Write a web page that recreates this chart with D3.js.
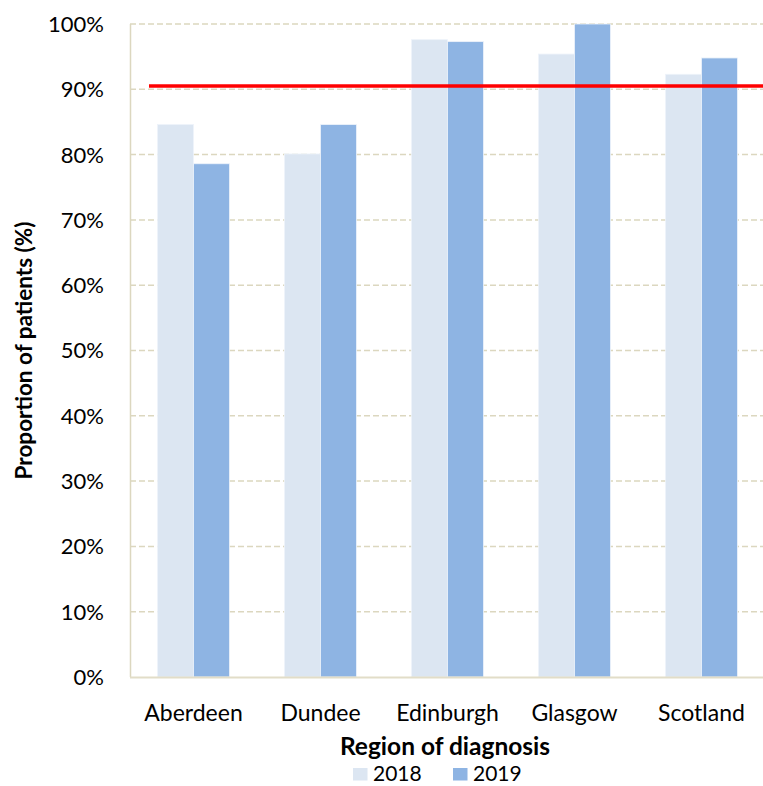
<!DOCTYPE html>
<html>
<head>
<meta charset="utf-8">
<script src="https://cdn.jsdelivr.net/npm/d3@7"></script>
<style>
  html, body { margin: 0; padding: 0; background: #fff; }
  svg { display: block; font-family: Lato, "Open Sans", sans-serif; }
</style>
</head>
<body>
<svg id="chart" width="763" height="786"></svg>
<script>
// Share of patients by region of diagnosis, 2018 vs 2019
const regions = ["Aberdeen", "Dundee", "Edinburgh", "Glasgow", "Scotland"];
const years = ["2018", "2019"];
const values2018 = [84.6, 80.1, 97.6, 95.4, 92.3];
const values2019 = [78.6, 84.6, 97.3, 100.0, 94.8];
const targetValue = 90.5;
const yTicks = [0, 10, 20, 30, 40, 50, 60, 70, 80, 90, 100];
const yearColors = ["#dce6f2", "#8eb4e3"];

const svg = d3.select("#chart");
const margin = { left: 130, top: 24, right: -2, bottom: 109 };
const W = 763, H = 786;
const x0 = margin.left, x1 = W - margin.right;
const yTop = margin.top, yBottom = H - margin.bottom;

const x = d3.scaleBand().domain(regions).range([x0, x1]).paddingInner(0.433).paddingOuter(0.2165);
const xs = d3.scaleBand().domain(years).range([0, x.bandwidth()]);
const y = d3.scaleLinear().domain([0, 100]).range([yBottom, yTop]);

const rows = regions.map((r, i) => ({ region: r, vals: [values2018[i], values2019[i]] }));

// gridlines
svg.append("g").selectAll("line").data(yTicks.filter(t => t > 0)).join("line")
  .attr("x1", x0).attr("x2", W)
  .attr("y1", d => y(d)).attr("y2", d => y(d))
  .attr("stroke", "#dcd7bf").attr("stroke-width", 1.5).attr("stroke-dasharray", "6,3");

// bars
const groups = svg.append("g").selectAll("g").data(rows).join("g")
  .attr("transform", d => `translate(${x(d.region)},0)`);
groups.selectAll("rect").data(d => d.vals.map((v, j) => ({ year: years[j], v, j }))).join("rect")
  .attr("x", d => xs(d.year))
  .attr("width", xs.bandwidth())
  .attr("y", d => y(d.v))
  .attr("height", d => y(0) - y(d.v))
  .attr("fill", d => yearColors[d.j])
  .attr("stroke", "#eef3fa").attr("stroke-width", 0.8);

// axis lines
svg.append("line").attr("x1", x0 + 0.5).attr("x2", x0 + 0.5).attr("y1", yTop).attr("y2", yBottom)
  .attr("stroke", "#dcd7bf").attr("stroke-width", 1.5);
svg.append("line").attr("x1", x0).attr("x2", W).attr("y1", yBottom + 0.5).attr("y2", yBottom + 0.5)
  .attr("stroke", "#e2ddc8").attr("stroke-width", 2);

// target line
svg.append("line").attr("x1", 149).attr("x2", W)
  .attr("y1", y(targetValue)).attr("y2", y(targetValue))
  .attr("stroke", "#ff0000").attr("stroke-width", 3.5);

// y tick labels
svg.append("g").selectAll("text").data(yTicks).join("text")
  .attr("x", 104).attr("y", d => y(d)).attr("dy", "0.36em")
  .attr("text-anchor", "end").attr("font-size", 22).attr("fill", "#000")
  .text(d => d + "%");

// x tick labels
svg.append("g").selectAll("text").data(regions).join("text")
  .attr("x", d => x(d) + x.bandwidth() / 2).attr("y", 721)
  .attr("text-anchor", "middle").attr("font-size", 23).attr("fill", "#000")
  .text(d => d);

// axis titles
svg.append("text").attr("x", 445).attr("y", 755).attr("text-anchor", "middle")
  .attr("font-size", 24.5).attr("font-weight", "bold").text("Region of diagnosis");
svg.append("text").attr("transform", `translate(31.5,${(yTop + yBottom) / 2}) rotate(-90)`)
  .attr("text-anchor", "middle").attr("font-size", 22.5).attr("font-weight", "bold")
  .text("Proportion of patients (%)");

// legend
const legendItems = [{ label: "2018", x: 353 }, { label: "2019", x: 453 }];
const lg = svg.append("g").selectAll("g").data(legendItems).join("g")
  .attr("transform", d => `translate(${d.x},768)`);
lg.append("rect").attr("width", 14.5).attr("height", 12.5).attr("fill", (d, i) => yearColors[i]);
lg.append("text").attr("x", 20).attr("y", 12.5).attr("font-size", 21).text(d => d.label);
</script>
</body>
</html>
